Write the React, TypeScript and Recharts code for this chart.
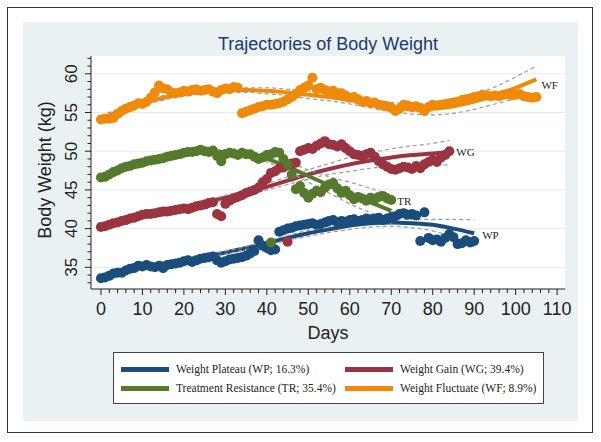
import React from 'react';
import { ComposedChart, Scatter, Line, XAxis, YAxis, CartesianGrid, ReferenceDot } from 'recharts';

// observed mean weights, one value per day from the start day
const WP_START = 0;
const wpValues = [
  33.6, 33.7, 33.9, 34.2, 34.3, 34.3, 34.6, 34.8, 34.9, 35.2,
  35.1, 35.3, 35.1, 35.0, 35.2, 34.9, 35.3, 35.4, 35.5, 35.6,
  35.8, 35.9, 35.7, 35.9, 36.1, 36.2, 36.3, 36.4, 35.9, 35.6,
  35.8, 36.0, 36.1, 36.2, 36.3, 36.5, 36.8, 37.1, 38.5, 37.8,
  37.5, 37.2, 37.3, 39.6, 39.8, 40.0, 40.1, 40.3, 40.4, 40.5,
  40.6, 40.7, 40.5, 40.6, 40.8, 41.0, 41.1, 40.8, 41.0, 40.9,
  41.1, 41.2, 41.0, 41.1, 41.3, 41.2, 41.3, 41.4, 41.1, 41.3,
  41.5, 41.6, 41.9, 42.0, 41.8, 41.9, 41.7, 38.4, 42.1, 38.8,
  38.5, 38.6, 38.3, 38.8, 39.3, 38.9, 38.0, 38.1, 38.5, 38.2,
  38.4,
];

const WG_START = 0;
const wgValues = [
  40.2, 40.3, 40.5, 40.7, 40.8, 41.0, 41.1, 41.3, 41.4, 41.6,
  41.8, 41.9, 41.9, 42.0, 42.1, 42.2, 42.2, 42.3, 42.4, 42.5,
  42.6, 42.5, 42.7, 42.9, 43.0, 43.1, 43.3, 43.4, 41.9, 41.6,
  43.2, 43.6, 43.9, 44.1, 44.3, 44.6, 44.8, 45.0, 45.3, 46.0,
  46.4, 47.2, 47.4, 47.8, 47.9, 48.2, 48.4, 48.5, 50.0, 50.2,
  50.4, 50.3, 50.7, 51.0, 51.3, 50.9, 50.8, 50.6, 50.9, 50.4,
  50.0, 49.6, 49.5, 49.4, 49.6, 49.8, 49.3, 48.7, 48.3, 48.0,
  47.7, 47.6, 47.8, 48.0, 47.9, 47.7, 48.1, 47.8, 48.3, 48.6,
  48.9, 48.6, 49.2, 49.5, 50.0,
];
const wgExtraDays = [45];
const wgExtraValues = [38.3];

const TR_START = 0;
const trValues = [
  46.6, 46.7, 47.0, 47.3, 47.5, 47.8, 48.0, 48.1, 48.3, 48.4,
  48.5, 48.7, 48.8, 48.9, 49.0, 49.1, 49.3, 49.4, 49.5, 49.6,
  49.8, 49.9, 49.9, 50.0, 50.2, 50.0, 49.9, 50.1, 49.4, 48.7,
  49.6, 49.8, 49.7, 49.5, 49.8, 49.6, 49.6, 49.3, 49.0, 49.2,
  49.5, 49.6, 49.9, 49.8, 49.0, 48.3, 47.0, 45.1, 45.5, 44.6,
  44.0, 44.5, 44.9, 44.7, 45.3, 45.7, 45.9, 45.2, 44.6, 44.9,
  44.3, 43.8, 44.1, 43.9, 43.6, 44.0, 43.8, 44.1, 44.2, 43.9,
  43.7,
];
const trExtraDays = [41];
const trExtraValues = [38.2];

const WF_START_A = 0;
const wfValuesA = [
  54.1, 54.2, 54.2, 54.3, 54.8, 55.2, 55.5, 55.7, 55.9, 56.2,
  56.1, 56.4, 56.9, 57.6, 58.5, 58.1, 58.0, 57.6, 57.5, 57.6,
  57.8, 57.7, 57.9, 58.0, 57.8, 57.9, 58.0, 57.7, 57.5, 57.9,
  58.1, 58.0, 58.3, 58.2,
];
const WF_START_B = 34;
const wfValuesB = [
  54.9, 55.1, 55.3, 55.5, 55.7, 55.8,
  56.0, 56.0, 56.1, 56.2, 56.4, 56.7, 57.0, 57.4, 57.9, 58.2,
  58.5, 59.5, 58.0, 58.2, 57.9, 57.7, 57.8, 57.5, 57.5, 57.2,
  56.9, 57.0, 56.7, 56.4, 56.5, 56.2, 56.3, 56.0, 55.9, 55.8,
  55.6, 55.2, 55.5, 56.0, 55.9, 55.7, 55.8, 55.6, 55.2, 55.7,
  56.0, 55.9, 56.0, 56.1, 56.2, 56.3, 56.4, 56.6, 56.7, 56.8,
  57.0, 57.1, 57.3, 57.2, 57.1, 57.2, 57.1, 57.3, 57.4, 57.2,
  57.3, 57.4, 57.1, 57.0, 56.9, 57.0,
];

// fitted trajectories with 95% CI
const wpFitDays = [0, 5, 10, 15, 20, 25, 30, 35, 40, 45, 50, 55, 60, 65, 70, 75, 80, 85, 90];
const wpFit = [33.8, 34.5, 35.0, 35.5, 35.9, 36.4, 36.9, 37.5, 38.1, 38.8, 39.4, 39.9, 40.4, 40.7, 40.8, 40.7, 40.5, 40.0, 39.4];
const wpHi = [34.1, 34.7, 35.2, 35.7, 36.1, 36.6, 37.1, 37.7, 38.4, 39.1, 39.8, 40.3, 40.8, 41.1, 41.2, 41.2, 41.2, 41.2, 41.1];
const wpLo = [33.5, 34.3, 34.8, 35.3, 35.7, 36.2, 36.7, 37.3, 37.8, 38.5, 39.0, 39.5, 39.9, 40.2, 40.3, 40.1, 39.7, 38.9, 37.7];

const wgFitDays = [0, 5, 10, 15, 20, 25, 30, 35, 40, 45, 50, 55, 60, 65, 70, 75, 80, 84];
const wgFit = [40.2, 41.0, 41.7, 42.3, 42.8, 43.4, 44.0, 44.6, 45.4, 46.2, 47.0, 47.7, 48.3, 48.8, 49.2, 49.5, 49.7, 49.9];
const wgHi = [40.5, 41.2, 41.9, 42.5, 43.0, 43.6, 44.3, 45.0, 45.8, 46.7, 47.6, 48.4, 49.2, 49.8, 50.3, 50.7, 51.0, 51.4];
const wgLo = [39.9, 40.8, 41.5, 42.1, 42.6, 43.2, 43.7, 44.3, 45.0, 45.7, 46.4, 47.0, 47.4, 47.8, 48.1, 48.3, 48.3, 48.2];

const trFitDays = [0, 5, 10, 15, 20, 25, 30, 35, 40, 45, 50, 55, 60, 65, 70];
const trFit = [46.6, 47.6, 48.4, 49.1, 49.6, 49.9, 49.9, 49.6, 49.0, 48.0, 46.8, 45.6, 44.4, 43.4, 42.3];
const trHi = [46.9, 47.8, 48.6, 49.3, 49.9, 50.1, 50.2, 49.9, 49.4, 48.6, 47.6, 46.7, 46.0, 45.2, 44.4];
const trLo = [46.3, 47.4, 48.2, 48.9, 49.3, 49.7, 49.6, 49.3, 48.6, 47.4, 46.0, 44.6, 43.2, 42.0, 40.6];

const wfFitDays = [0, 5, 10, 15, 20, 25, 30, 35, 40, 45, 50, 55, 60, 65, 70, 75, 80, 85, 90, 95, 100, 105];
const wfFit = [54.2, 55.3, 56.2, 56.9, 57.4, 57.7, 57.9, 57.9, 57.8, 57.6, 57.3, 57.0, 56.6, 56.2, 55.7, 55.4, 55.5, 55.8, 56.4, 57.2, 58.2, 59.3];
const wfHi = [54.6, 55.6, 56.5, 57.2, 57.7, 58.0, 58.2, 58.2, 58.2, 58.0, 57.8, 57.5, 57.1, 56.7, 56.3, 56.1, 56.2, 56.6, 57.3, 58.3, 59.6, 61.0];
const wfLo = [53.8, 55.0, 55.9, 56.6, 57.1, 57.4, 57.6, 57.6, 57.4, 57.2, 56.8, 56.5, 56.1, 55.6, 55.1, 54.8, 54.7, 54.9, 55.4, 56.1, 56.8, 57.6];

const xMajor = [0, 10, 20, 30, 40, 50, 60, 70, 80, 90, 100, 110];
const yMajor = [35, 40, 45, 50, 55, 60];

const legendItems = [
  { label: 'Weight Plateau (WP; 16.3%)', color: '#1a4c7c' },
  { label: 'Weight Gain (WG; 39.4%)', color: '#9a3441' },
  { label: 'Treatment Resistance (TR; 35.4%)', color: '#567a2c' },
  { label: 'Weight Fluctuate (WF; 8.9%)', color: '#ef8a0a' },
];
const [WP_C, WG_C, TR_C, WF_C] = legendItems.map(l => l.color);

const daily = (start: number, vals: number[]) => vals.map((w, i) => ({ day: start + i, w }));
const pairs = (days: number[], vals: number[]) => days.map((d, i) => ({ day: d, w: vals[i] }));

const xTicks: number[] = [];
xMajor.forEach((m, i) => {
  xTicks.push(m);
  if (i < xMajor.length - 1) for (let k = 2; k < 10; k += 2) xTicks.push(m + k);
});
const yTicks: number[] = [];
for (let v = 33; v <= 62; v++) yTicks.push(v);

const FONT = '"Liberation Sans", Arial, sans-serif';
const SERIF = '"Liberation Serif", "Times New Roman", serif';
const INK = '#222';
const CI = '#9a9a9a';

const XTick = (props: any) => {
  const { x, y, payload } = props;
  const major = xMajor.includes(payload.value);
  return (
    <g>
      <line x1={x} y1={y} x2={x} y2={y + (major ? 6 : 4)} stroke={INK} />
      {major && (
        <text x={x} y={y + 26} textAnchor="middle" fontSize={18} fontFamily={FONT} fill={INK}>
          {payload.value}
        </text>
      )}
    </g>
  );
};

const YTick = (props: any) => {
  const { x, y, payload } = props;
  const major = yMajor.includes(payload.value);
  return (
    <g>
      <line x1={x} y1={y} x2={x - (major ? 6 : 3.5)} y2={y} stroke={INK} />
      {major && (
        <text transform={`translate(${x - 14},${y}) rotate(-90)`} textAnchor="middle" fontSize={17} fontFamily={FONT} fill={INK}>
          {payload.value}
        </text>
      )}
    </g>
  );
};

const tag = (text: string, dx: number, dy: number) => (p: any) => (
  <text x={p.cx + dx} y={p.cy + dy} fontSize={11} fontFamily={SERIF} fill={INK}>{text}</text>
);

const dot = (color: string) => (p: any) => <circle cx={p.cx} cy={p.cy} r={5} fill={color} />;

const groups = [
  { key: 'wp', color: WP_C, fd: wpFitDays, fit: wpFit, lo: wpLo, hi: wpHi },
  { key: 'wg', color: WG_C, fd: wgFitDays, fit: wgFit, lo: wgLo, hi: wgHi },
  { key: 'tr', color: TR_C, fd: trFitDays, fit: trFit, lo: trLo, hi: trHi },
  { key: 'wf', color: WF_C, fd: wfFitDays, fit: wfFit, lo: wfLo, hi: wfHi },
];

export default function App() {
  const last = (a: number[]) => a[a.length - 1];
  return (
    <div style={{ position: 'absolute', left: 0, top: 0, width: 601, height: 442, background: '#fff', fontFamily: FONT }}>
      <div style={{ position: 'absolute', left: 7, top: 7, width: 584, height: 424, border: '1.5px solid #333' }} />
      <div style={{ position: 'absolute', left: 23, top: 22, width: 555, height: 399, background: '#eaf1f3' }} />
      <div style={{ position: 'absolute', left: 0, top: 0 }}>
        <ComposedChart width={601} height={442} margin={{ top: 56, right: 36, bottom: 123, left: 51 }}>
          <CartesianGrid horizontalValues={yMajor} vertical={false} stroke="#e3ebee" fill="#ffffff" />
          <XAxis
            dataKey="day" type="number" domain={[-2.4, 111.9]} ticks={xTicks} interval={0}
            tick={<XTick />} tickLine={false} tickSize={0} tickMargin={0} height={30}
            axisLine={{ stroke: INK }}
          />
          <YAxis
            dataKey="w" type="number" domain={[32.2, 62.3]} ticks={yTicks} interval={0}
            tick={<YTick />} tickLine={false} tickSize={0} tickMargin={0} width={40}
            axisLine={{ stroke: INK }}
          />
          <Scatter data={daily(WP_START, wpValues)} dataKey="w" shape={dot(WP_C)} isAnimationActive={false} />
          <Scatter data={[...daily(WG_START, wgValues), ...pairs(wgExtraDays, wgExtraValues)]} dataKey="w" shape={dot(WG_C)} isAnimationActive={false} />
          <Scatter data={[...daily(TR_START, trValues), ...pairs(trExtraDays, trExtraValues)]} dataKey="w" shape={dot(TR_C)} isAnimationActive={false} />
          <Scatter data={[...daily(WF_START_A, wfValuesA), ...daily(WF_START_B, wfValuesB)]} dataKey="w" shape={dot(WF_C)} isAnimationActive={false} />
          {groups.map(g => [
            <Line key={g.key + 'f'} data={pairs(g.fd, g.fit)} dataKey="w" type="monotone" stroke={g.color} strokeWidth={4} dot={false} isAnimationActive={false} />,
            <Line key={g.key + 'h'} data={pairs(g.fd, g.hi)} dataKey="w" type="monotone" stroke={CI} strokeWidth={1.2} strokeDasharray="4 3" dot={false} isAnimationActive={false} />,
            <Line key={g.key + 'l'} data={pairs(g.fd, g.lo)} dataKey="w" type="monotone" stroke={CI} strokeWidth={1.2} strokeDasharray="4 3" dot={false} isAnimationActive={false} />,
          ])}
          <ReferenceDot x={last(wfFitDays)} y={last(wfFit)} r={0} shape={tag('WF', 5, 10)} />
          <ReferenceDot x={last(wgFitDays)} y={last(wgFit)} r={0} shape={tag('WG', 7, 4)} />
          <ReferenceDot x={last(trFitDays)} y={last(trFit)} r={0} shape={tag('TR', 6, -6)} />
          <ReferenceDot x={last(wpFitDays)} y={last(wpFit)} r={0} shape={tag('WP', 8, 6)} />
        </ComposedChart>
      </div>
      <svg width={601} height={442} style={{ position: 'absolute', left: 0, top: 0, pointerEvents: 'none' }}>
        <text x={328} y={50} textAnchor="middle" fontSize={18} fill="#1d3a70" fontFamily={FONT}>Trajectories of Body Weight</text>
        <text x={328} y={339} textAnchor="middle" fontSize={18} fill={INK} fontFamily={FONT}>Days</text>
        <text transform="translate(51,170) rotate(-90)" textAnchor="middle" fontSize={18} fill={INK} fontFamily={FONT}>Body Weight (kg)</text>
      </svg>
      <div style={{ position: 'absolute', left: 113, top: 352, width: 429, height: 50, background: '#fff', border: '1px solid #444' }}>
        {legendItems.map((it, i) => (
          <div key={it.label} style={{
            position: 'absolute', left: i % 2 === 0 ? 7 : 231, top: i < 2 ? 9 : 28,
            display: 'flex', alignItems: 'center', height: 14,
          }}>
            <div style={{ width: 48, height: 5, background: it.color, marginRight: 7 }} />
            <span style={{ fontFamily: SERIF, fontSize: 11.5, color: INK, whiteSpace: 'nowrap' }}>{it.label}</span>
          </div>
        ))}
      </div>
    </div>
  );
}
